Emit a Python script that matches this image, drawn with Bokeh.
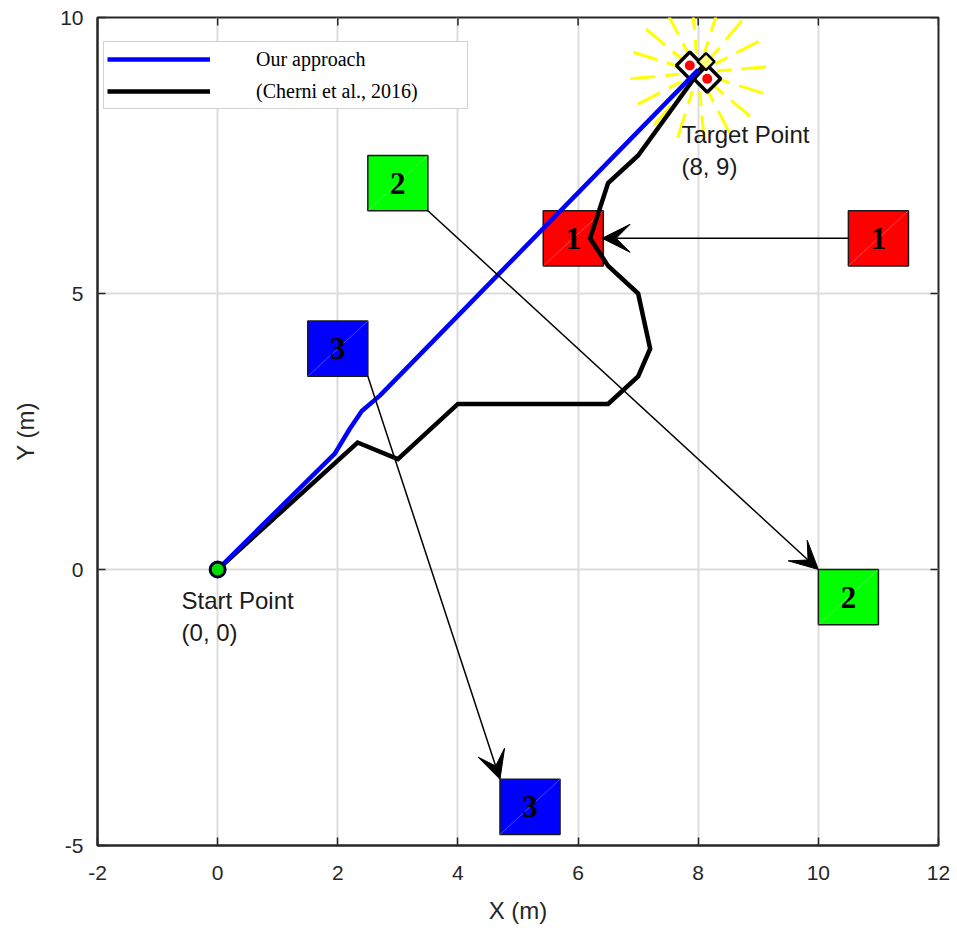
import numpy as np
from bokeh.plotting import figure
from bokeh.models import (Range1d, FixedTicker, Arrow, VeeHead, CustomJSTickFormatter,
                          Legend, LegendItem, ColumnDataSource)
from bokeh.core.properties import value
from bokeh.embed import file_html
from bokeh.resources import INLINE

# ---------------- data ----------------
x_ticks = [-2, 0, 2, 4, 6, 8, 10, 12]
y_ticks = [-5, 0, 5, 10]

# Our approach path
ours_x = [0.0, 1.95, 2.2, 2.4, 2.7, 8.0]
ours_y = [0.0, 2.1, 2.55, 2.87, 3.15, 9.05]

# (Cherni et al., 2016) path
cherni_x = [0.0, 2.33, 3.0, 4.0, 6.5, 7.0, 7.2, 7.0, 6.5, 6.2, 6.5, 7.0, 8.0]
cherni_y = [0.0, 2.3, 2.0, 3.0, 3.0, 3.5, 4.0, 5.0, 5.5, 6.0, 7.0, 7.5, 9.0]

start_pt = (0.0, 0.0)
target_pt = (8.0, 9.0)
target_marks_x = [7.86, 8.15]
target_marks_y = [9.13, 8.89]
target_small_x = [8.13]
target_small_y = [9.2]

# obstacles (boxes)
box_x = [11.0, 5.92, 3.0, 10.5, 2.0, 5.2]
box_y = [6.0, 6.0, 7.0, -0.5, 4.0, -4.3]
box_label = ["1", "1", "2", "2", "3", "3"]
box_color = ["#ff0000", "#ff0000", "#00ff00", "#00ff00", "#0000ff", "#0000ff"]

# obstacle movement arrows
arr_x0 = [10.5, 3.5, 2.5]
arr_y0 = [6.0, 6.5, 3.5]
arr_x1 = [6.4, 10.0, 4.7]
arr_y1 = [6.0, 0.0, -3.8]

# ---------------- figure ----------------
W, H = 957, 932
LB, RB, TB, BB = 97, 19, 17, 87
p = figure(width=W, height=H, output_backend="svg", toolbar_location=None,
           x_range=Range1d(-2, 12), y_range=Range1d(-5, 10),
           min_border_left=LB, min_border_right=RB, min_border_top=TB,
           min_border_bottom=BB, x_axis_label="X (m)", y_axis_label="Y (m)")
p.background_fill_color = "white"
p.border_fill_color = "white"
p.outline_line_color = "#262626"
p.outline_line_width = 2

fmt = CustomJSTickFormatter(code="return tick.toString();")
for ax, t in ((p.xaxis, x_ticks), (p.yaxis, y_ticks)):
    ax.ticker = FixedTicker(ticks=t)
    ax.formatter = fmt
    ax.major_tick_in = 8
    ax.major_tick_out = 0
    ax.minor_tick_in = 0
    ax.minor_tick_out = 0
    ax.axis_line_color = "#262626"
    ax.axis_line_width = 2
    ax.major_tick_line_color = "#262626"
    ax.major_tick_line_width = 1.5
    ax.major_label_text_font = "Liberation Sans"
    ax.major_label_text_font_size = "21px"
    ax.major_label_text_color = "#262626"
    ax.axis_label_text_font = "Liberation Sans"
    ax.axis_label_text_font_size = "24px"
    ax.axis_label_text_font_style = "normal"
    ax.axis_label_text_color = "#262626"
p.xaxis.major_label_standoff = 20
p.xaxis.axis_label_standoff = 14
p.yaxis.major_label_standoff = 14
p.yaxis.axis_label_standoff = 18

for g, t in ((p.xgrid, x_ticks), (p.ygrid, y_ticks)):
    g.ticker = FixedTicker(ticks=t)
    g.grid_line_color = "#dcdcdc"
    g.grid_line_width = 2

px_per_x = (W - LB - RB) / 14.0
px_per_y = (H - TB - BB) / 15.0

# mirrored inward ticks on the top and right edges
xt = np.array(x_ticks, dtype=float)
yt = np.array(y_ticks, dtype=float)
p.segment(xt, np.full_like(xt, 10.0), xt, np.full_like(xt, 10.0 - 8 / px_per_y),
          line_color="#262626", line_width=1.5)
p.segment(np.full_like(yt, 12.0), yt, np.full_like(yt, 12.0 - 8 / px_per_x), yt,
          line_color="#262626", line_width=1.5)

# ---------------- target sunburst (decorative dashes) ----------------
ang = np.deg2rad(np.arange(0, 360, 22.5) + 5)
sx0, sy0, sx1, sy1 = [], [], [], []
for k, a in enumerate(ang):
    for r0, r1 in ((19, 33), (43, 68)):
        sx0.append(target_pt[0] + r0 * np.cos(a) / px_per_x)
        sy0.append(target_pt[1] + r0 * np.sin(a) / px_per_y)
        sx1.append(target_pt[0] + r1 * np.cos(a) / px_per_x)
        sy1.append(target_pt[1] + r1 * np.sin(a) / px_per_y)
p.segment(sx0, sy0, sx1, sy1, line_color="#ffff00", line_width=3)

# ---------------- obstacles ----------------
bsrc = ColumnDataSource(dict(x=box_x, y=box_y, label=box_label, color=box_color))
p.rect("x", "y", width=1, height=1, source=bsrc, fill_color="color",
       line_color="#1a1a1a", line_width=1.5)
bx = np.array(box_x)
by = np.array(box_y)
p.segment(bx - 0.5, by - 0.5, bx + 0.5, by + 0.5, line_color="white",
          line_alpha=0.35, line_width=0.8)
p.text("x", "y", text="label", source=bsrc, text_align="center",
       text_baseline="middle", text_font=value("Liberation Serif"),
       text_font_style="bold", text_font_size="31px", text_color="black")

for x0, y0, x1, y1 in zip(arr_x0, arr_y0, arr_x1, arr_y1):
    p.add_layout(Arrow(x_start=x0, y_start=y0, x_end=x1, y_end=y1,
                       line_color="black", line_width=1.5,
                       end=VeeHead(size=28, fill_color="black", line_color="black",
                                   line_width=1)))

# ---------------- target markers ----------------
p.scatter(target_marks_x, target_marks_y, marker="square", angle=np.pi / 4, size=19,
          fill_color="white", line_color="black", line_width=3.5)
p.scatter(target_small_x, target_small_y, marker="square", angle=np.pi / 4, size=12,
          fill_color="#ffff80", line_color="black", line_width=2.5)
p.scatter(target_marks_x, target_marks_y, marker="circle", size=10,
          fill_color="#ff0000", line_color=None)

# ---------------- paths ----------------
r_cherni = p.line(cherni_x, cherni_y, line_color="black", line_width=4.5,
                  line_join="miter")
r_ours = p.line(ours_x, ours_y, line_color="#0000ff", line_width=4.5)

# start marker
p.scatter([start_pt[0]], [start_pt[1]], marker="circle", size=15,
          fill_color="#00dd00", line_color="#000033", line_width=3)

# ---------------- annotations ----------------
p.text([-0.6, -0.6], [-0.56, -1.14], text=["Start Point", "(0, 0)"],
       text_font=value("Liberation Sans"), text_font_size="24px",
       text_baseline="middle", text_align="left", text_color="#1a1a1a")
p.text([7.72, 7.72], [7.88, 7.30], text=["Target Point", "(8, 9)"],
       text_font=value("Liberation Sans"), text_font_size="24px",
       text_baseline="middle", text_align="left", text_color="#1a1a1a")

# ---------------- legend ----------------
legend = Legend(items=[LegendItem(label="Our approach", renderers=[r_ours]),
                       LegendItem(label="(Cherni et al., 2016)", renderers=[r_cherni])],
                location=(6, 828 - 26 - 66), padding=3, spacing=4, margin=0,
                glyph_width=103, glyph_height=28, label_standoff=46,
                label_width=208,
                label_text_font="Liberation Serif", label_text_font_size="20px",
                label_text_color="black",
                border_line_color="#a6a6a6", border_line_width=1.5,
                background_fill_color="white", background_fill_alpha=1)
p.add_layout(legend)

open("out.html", "w").write(file_html(p, INLINE))
